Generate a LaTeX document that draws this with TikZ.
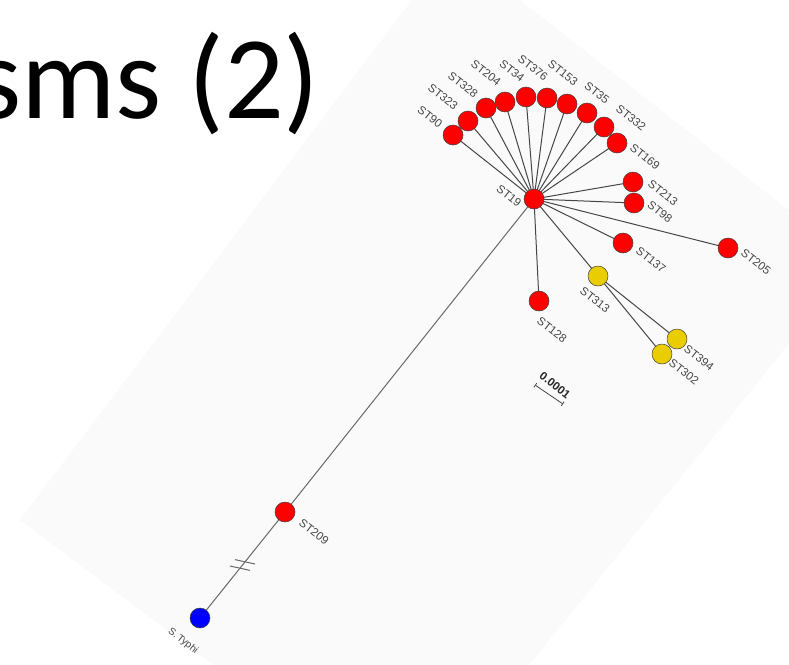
\documentclass[tikz,border=0pt]{standalone}
\usepackage{fontspec}
\setmainfont{Liberation Sans}
\newfontfamily\titlefont{Carlito}
\usetikzlibrary{arrows.meta}
\definecolor{nodered}{RGB}{255,0,0}
\definecolor{nodeyellow}{RGB}{234,205,0}
\definecolor{nodeblue}{RGB}{0,0,255}
\definecolor{branch}{RGB}{70,70,70}
\definecolor{longbranch}{RGB}{105,105,105}
\definecolor{labelgray}{RGB}{70,70,70}
\definecolor{panel}{RGB}{250,250,250}
\begin{document}
\begin{tikzpicture}[x=1pt,y=-1pt,
  st/.style={circle, draw=black!75, line width=0.5pt, minimum size=20pt, inner sep=0pt},
  redst/.style={st, fill=nodered},
  yellowst/.style={st, fill=nodeyellow},
  bluest/.style={st, fill=nodeblue},
  lbl/.style={font=\fontsize{11.5}{13}\selectfont, text=labelgray, rotate=-38, inner sep=0pt},
  br/.style={draw=branch, line width=1pt},
  longbr/.style={draw=longbranch, line width=1pt}
]
\clip (0,0) rectangle (789,664);
\fill[white] (0,0) rectangle (789,664);

% tilted panel behind the tree
\fill[panel] (452,-53) -- (855,262) -- (410,812) -- (20,520) -- cycle;

% slide title
\node[anchor=base east, inner sep=0pt, font=\titlefont\fontsize{118}{118}\selectfont] (title) at (320,118) {sms (2)};

% branch end points (disc centres)
\coordinate (c19)  at (534,199);
\coordinate (c90)  at (453,135);
\coordinate (c323) at (468,121);
\coordinate (c328) at (486,108);
\coordinate (c204) at (505,102);
\coordinate (c34)  at (526,97);
\coordinate (c376) at (547,98);
\coordinate (c153) at (567,104);
\coordinate (c35)  at (587,113);
\coordinate (c332) at (604,127);
\coordinate (c169) at (617,143);
\coordinate (c213) at (633,182);
\coordinate (c98)  at (634,203);
\coordinate (c137) at (623,243);
\coordinate (c205) at (728,248);
\coordinate (c313) at (598,276);
\coordinate (c128) at (539,301);
\coordinate (c394) at (677,339);
\coordinate (c302) at (662,354);
\coordinate (c209) at (285,512);
\coordinate (ctyphi) at (200,618);

% branches first, so the discs sit on top of them
\foreach \t in {c90,c323,c328,c204,c34,c376,c153,c35,c332,c169,c213,c98,c137,c205,c313,c128}
  \draw[br] (c19) -- (\t);
\draw[br] (c313) -- (c394);
\draw[br] (c313) -- (c302);
\draw[longbr] (c19) -- (c209);
\draw[longbr] (c209) -- (ctyphi);

% break marks on the outgroup branch
\path (c209) -- (ctyphi) coordinate[pos=0.47] (brkA) coordinate[pos=0.53] (brkB);
\draw[longbr] ([shift={(-10,-2.2)}]brkA) -- ([shift={(10,2.2)}]brkA);
\draw[longbr] ([shift={(-10,-2.2)}]brkB) -- ([shift={(10,2.2)}]brkB);

% tree nodes
\node[redst] (st19)  at (c19) {};
\node[redst] (st90)  at (c90) {};
\node[redst] (st323) at (c323) {};
\node[redst] (st328) at (c328) {};
\node[redst] (st204) at (c204) {};
\node[redst] (st34)  at (c34) {};
\node[redst] (st376) at (c376) {};
\node[redst] (st153) at (c153) {};
\node[redst] (st35)  at (c35) {};
\node[redst] (st332) at (c332) {};
\node[redst] (st169) at (c169) {};
\node[redst] (st213) at (c213) {};
\node[redst] (st98)  at (c98) {};
\node[redst] (st137) at (c137) {};
\node[redst] (st205) at (c205) {};
\node[yellowst] (st313) at (c313) {};
\node[redst] (st128) at (c128) {};
\node[yellowst] (st394) at (c394) {};
\node[yellowst] (st302) at (c302) {};
\node[redst] (st209) at (c209) {};
\node[bluest] (typhi) at (ctyphi) {};

% labels
\node[lbl] (l90)  at (430,117) {ST90};
\node[lbl] (l323) at (443,97) {ST323};
\node[lbl] (l328) at (463,85) {ST328};
\node[lbl] (l204) at (486,73) {ST204};
\node[lbl] (l34)  at (512,71) {ST34};
\node[lbl] (l376) at (533,68) {ST376};
\node[lbl] (l153) at (563,73) {ST153};
\node[lbl] (l35)  at (597,93) {ST35};
\node[lbl] (l332) at (631,118) {ST332};
\node[lbl] (l169) at (645,157) {ST169};
\node[lbl] (l19)  at (509,196) {ST19};
\node[lbl] (l213) at (663,193) {ST213};
\node[lbl] (l98)  at (660,212) {ST98};
\node[lbl] (l137) at (651,260) {ST137};
\node[lbl] (l205) at (756,262) {ST205};
\node[lbl] (l313) at (595,300) {ST313};
\node[lbl] (l128) at (552,330) {ST128};
\node[lbl] (l394) at (699,358) {ST394};
\node[lbl] (l302) at (684,372) {ST302};
\node[lbl] (l209) at (314,532) {ST209};
\node[lbl, font=\fontsize{10}{12}\selectfont] (ltyphi) at (183,641) {S.\,Typhi};

% scale bar
\coordinate (sbA) at (535,385);
\coordinate (sbB) at (563,404);
\draw[branch, line width=0.8pt, {Bar[width=5pt]}-{Bar[width=5pt]}] (sbA) -- (sbB);
\node[lbl, text=black!85, font=\bfseries\fontsize{11.5}{13}\selectfont] (sblabel) at (555,385) {0.0001};
\end{tikzpicture}
\end{document}
